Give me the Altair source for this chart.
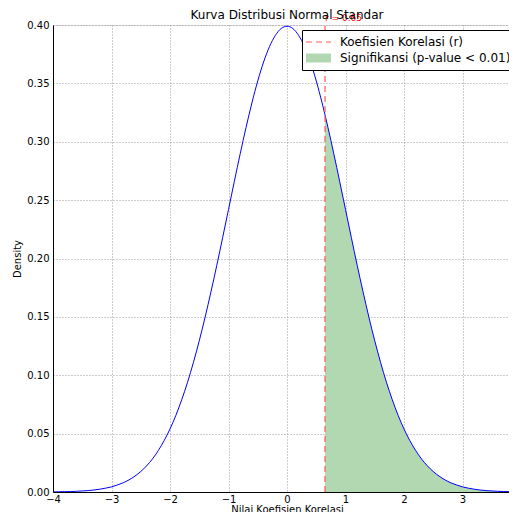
import altair as alt
import pandas as pd

# ---- data ----
x_vals = [-4.0, -3.9, -3.8, -3.7, -3.6, -3.5, -3.4, -3.3, -3.2, -3.1,
          -3.0, -2.9, -2.8, -2.7, -2.6, -2.5, -2.4, -2.3, -2.2, -2.1,
          -2.0, -1.9, -1.8, -1.7, -1.6, -1.5, -1.4, -1.3, -1.2, -1.1,
          -1.0, -0.9, -0.8, -0.7, -0.6, -0.5, -0.4, -0.3, -0.2, -0.1,
          0.0,
          0.1, 0.2, 0.3, 0.4, 0.5, 0.6,
          0.65,
          0.7, 0.8, 0.9, 1.0,
          1.1, 1.2, 1.3, 1.4, 1.5, 1.6, 1.7, 1.8, 1.9, 2.0,
          2.1, 2.2, 2.3, 2.4, 2.5, 2.6, 2.7, 2.8, 2.9, 3.0,
          3.1, 3.2, 3.3, 3.4, 3.5, 3.6, 3.7, 3.8, 3.9, 4.0]
density = [0.0001, 0.0002, 0.0003, 0.0004, 0.0006, 0.0009, 0.0012, 0.0017, 0.0024, 0.0033,
           0.0044, 0.0060, 0.0079, 0.0104, 0.0136, 0.0175, 0.0224, 0.0283, 0.0355, 0.0440,
           0.0540, 0.0656, 0.0790, 0.0940, 0.1109, 0.1295, 0.1497, 0.1714, 0.1942, 0.2179,
           0.2420, 0.2661, 0.2897, 0.3123, 0.3332, 0.3521, 0.3683, 0.3814, 0.3910, 0.3970,
           0.3989,
           0.3970, 0.3910, 0.3814, 0.3683, 0.3521, 0.3332,
           0.3230,
           0.3123, 0.2897, 0.2661, 0.2420,
           0.2179, 0.1942, 0.1714, 0.1497, 0.1295, 0.1109, 0.0940, 0.0790, 0.0656, 0.0540,
           0.0440, 0.0355, 0.0283, 0.0224, 0.0175, 0.0136, 0.0104, 0.0079, 0.0060, 0.0044,
           0.0033, 0.0024, 0.0017, 0.0012, 0.0009, 0.0006, 0.0004, 0.0003, 0.0002, 0.0001]

r_value = 0.65
r_label = "r = 0.65"
y_top = 0.40
legend_labels = ["Koefisien Korelasi (r)", "Signifikansi (p-value < 0.01)"]
x_ticks = [-4, -3, -2, -1, 0, 1, 2, 3]
y_ticks = [0.0, 0.05, 0.10, 0.15, 0.20, 0.25, 0.30, 0.35, 0.40]

FONT = "DejaVu Sans"
curve = pd.DataFrame({"x": x_vals, "y": density})
rule_df = pd.DataFrame({"x": [r_value], "y0": [0.0], "y1": [y_top], "label": [legend_labels[0]]})
text_df = pd.DataFrame({"x": [r_value], "y": [y_top], "t": [r_label]})

xscale = alt.Scale(domain=[-4, 4], nice=False, zero=False)
yscale = alt.Scale(domain=[0, 0.40], nice=False)

xaxis = alt.Axis(values=x_ticks, title="Nilai Koefisien Korelasi", ticks=False,
                 labelExpr="replace(format(datum.value, 'd'), '-', '\u2212')",
                 labelPadding=2, titlePadding=0, labelFontSize=10, titleFontSize=10,
                 labelFont=FONT, titleFont=FONT, titleFontWeight="normal",
                 labelColor="black", titleColor="black", domainColor="black",
                 gridColor="#9a9a9a", gridDash=[1, 2], gridWidth=1, labelFlush=False)
yaxis = alt.Axis(values=y_ticks, format=".2f", title="Density", ticks=False,
                 labelPadding=4, titlePadding=4, labelFontSize=10, titleFontSize=10,
                 labelFont=FONT, titleFont=FONT, titleFontWeight="normal",
                 labelColor="black", titleColor="black", domainColor="black",
                 gridColor="#9a9a9a", gridDash=[1, 2], gridWidth=1, labelFlush=False)

area = alt.Chart(curve).transform_filter(
    alt.datum.x >= r_value
).mark_area(color="#b2d8b2", interpolate="monotone", clip=True).encode(
    x=alt.X("x:Q", scale=xscale, axis=xaxis),
    y=alt.Y("y:Q", scale=yscale, axis=yaxis),
)

line = alt.Chart(curve).mark_line(color="#0000ff", strokeWidth=1, interpolate="monotone", clip=True).encode(
    x=alt.X("x:Q", scale=xscale),
    y=alt.Y("y:Q", scale=yscale),
)

legend = alt.Legend(title=None, orient="none", legendX=249, legendY=5,
                    strokeColor="black", fillColor="white", padding=4,
                    cornerRadius=0, symbolType="M-2.286,0H4.857", symbolSize=49,
                    labelFont=FONT, labelFontSize=12, labelColor="black",
                    labelLimit=400, labelOffset=18, rowPadding=0, clipHeight=16)

rule = alt.Chart(rule_df).mark_rule().encode(
    x=alt.X("x:Q", scale=xscale),
    y=alt.Y("y0:Q", scale=yscale),
    y2="y1:Q",
    color=alt.Color("label:N", scale=alt.Scale(domain=legend_labels, range=["#ff5959", "#b2d8b2"]), legend=legend),
    strokeDash=alt.StrokeDash("label:N", scale=alt.Scale(type="ordinal", domain=legend_labels, range=[[6, 4], [1, 0]]), legend=legend),
    strokeWidth=alt.StrokeWidth("label:N", scale=alt.Scale(type="ordinal", domain=legend_labels, range=[1.2, 9]), legend=legend),
)

text = alt.Chart(text_df).mark_text(color="red", fontSize=9, font=FONT, align="left",
                                    baseline="bottom", dy=-2, clip=False).encode(
    x=alt.X("x:Q", scale=xscale),
    y=alt.Y("y:Q", scale=yscale),
    text="t:N",
)

chart = alt.layer(area, line, rule, text).properties(
    width=468, height=467,
    title=alt.TitleParams("Kurva Distribusi Normal Standar", fontSize=12, font=FONT,
                          fontWeight="normal", color="black", offset=4, anchor="middle", dy=12),
    padding={"left": 45, "top": 17, "right": -12, "bottom": 20},
    autosize=alt.AutoSizeParams(type="none"),
).configure_view(stroke="black", strokeWidth=1).configure(background="white")

chart.save("out.html", embed_options={"renderer": "svg", "actions": False})
